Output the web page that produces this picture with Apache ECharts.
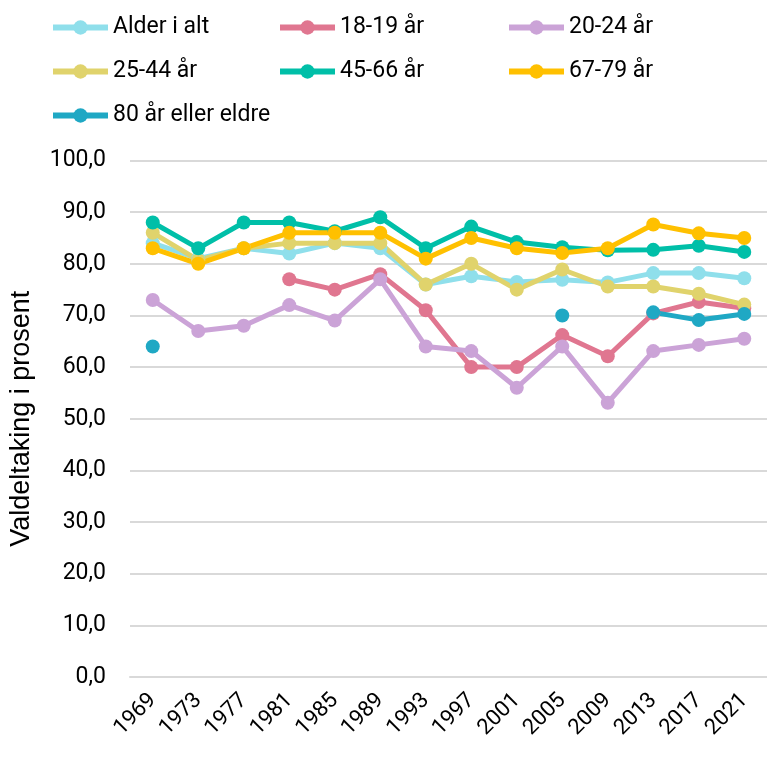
<!DOCTYPE html>
<html>
<head>
<meta charset="utf-8">
<script src="https://cdn.jsdelivr.net/npm/echarts@6/dist/echarts.min.js"></script>
<style>
  html, body { margin: 0; padding: 0; background: #fff; }
  #chart { width: 767px; height: 763px; }
</style>
</head>
<body>
<div id="chart"></div>
<script>
// valgår
var years = ['1969','1973','1977','1981','1985','1989','1993','1997','2001','2005','2009','2013','2017','2021'];

// valdeltaking per aldersgruppe (prosent)
var alderIAlt = [84, 81, 83, 82, 84, 83, 76, 77.6, 76.5, 76.9, 76.4, 78.2, 78.2, 77.2];
var aar18_19  = [null, null, null, 77, 75, 78, 71, 60, 60, 66.2, 62.1, 70.4, 72.6, 71.4];
var aar20_24  = [73, 67, 68, 72, 69, 77, 64, 63.1, 56, 64, 53.1, 63.1, 64.3, 65.5];
var aar25_44  = [86, 80.7, 83, 84, 84, 84, 76, 80, 75, 78.9, 75.6, 75.6, 74.2, 72.1];
var aar45_66  = [88, 83, 88, 88, 86.3, 89, 83, 87.2, 84.2, 83.2, 82.6, 82.7, 83.5, 82.3];
var aar67_79  = [83, 80, 83, 86, 86, 86, 81, 85, 83, 82.1, 83, 87.6, 85.9, 85];
var aar80     = [64, null, null, null, null, null, null, null, null, 70, null, 70.6, 69.1, 70.3];

var names  = ['Alder i alt','18-19 år','20-24 år','25-44 år','45-66 år','67-79 år','80 år eller eldre'];
var values = [alderIAlt, aar18_19, aar20_24, aar25_44, aar45_66, aar67_79, aar80];
var colors = ['#8fdfeb','#e07690','#cba3d7','#e0d36c','#00bfa8','#ffc000','#1fa8c4'];

var font = 'Roboto';

var mCharts = echarts.init(document.getElementById('chart'));

var series = names.map(function(n, i){
  return {
    name: n,
    type: 'line',
    data: values[i],
    color: colors[i],
    symbol: 'circle',
    symbolSize: 14,
    showSymbol: true,
    connectNulls: false,
    lineStyle: { width: 5 },
    emphasis: { disabled: true },
    animation: false
  };
});

// tre kolonner i forklaringen
var legendCol = function(left, data){
  return {
    orient: 'vertical',
    left: left,
    top: 16,
    padding: 0,
    itemWidth: 55,
    itemHeight: 18,
    itemGap: 21,
    data: data,
    lineStyle: { width: 6 },
    textStyle: { fontFamily: font, fontSize: 23, color: '#000', lineHeight: 23 }
  };
};

var option = {
  backgroundColor: '#fff',
  animation: false,
  legend: [
    legendCol(50, ['Alder i alt','25-44 år','80 år eller eldre']),
    legendCol(277, ['18-19 år','45-66 år']),
    legendCol(506, ['20-24 år','67-79 år'])
  ],
  grid: { left: 124, right: -5, top: 160.5, bottom: 86, containLabel: false },
  xAxis: {
    type: 'category',
    data: years,
    boundaryGap: true,
    axisLine: { show: true, lineStyle: { color: '#d9d9d9', width: 2 } },
    axisTick: { show: false },
    axisLabel: { rotate: 45, interval: 0, margin: 20, fontFamily: font, fontSize: 22, color: '#000' }
  },
  yAxis: {
    type: 'value',
    min: 0,
    max: 100,
    interval: 10,
    name: 'Valdeltaking i prosent',
    nameLocation: 'middle',
    nameRotate: 90,
    nameGap: 95,
    nameTextStyle: { fontFamily: 'Liberation Sans', fontSize: 27, color: '#000' },
    axisLine: { show: false },
    axisTick: { show: false },
    splitLine: { lineStyle: { color: '#d9d9d9', width: 2 } },
    axisLabel: {
      margin: 24,
      fontFamily: font,
      fontSize: 23,
      color: '#000',
      formatter: function(v){ return v.toFixed(1).replace('.', ','); }
    }
  },
  series: series
};

mCharts.setOption(option);
</script>
</body>
</html>
